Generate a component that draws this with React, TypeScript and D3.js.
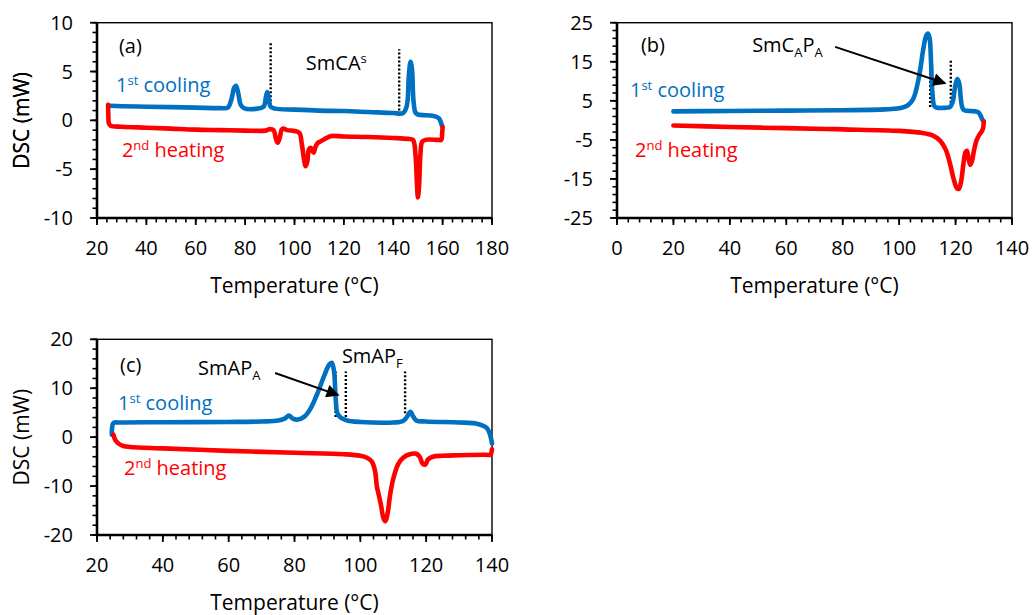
import React from 'react';
import * as d3 from 'd3';

type Pt = [number, number];

// ---------- Panel (a) ----------
const aCooling: Pt[] = [
  [24.5, 1.5], [30, 1.45], [40, 1.4], [50, 1.35], [60, 1.3], [70, 1.25], [73, 1.3], [74.5, 2.2], [75.5, 3.3],
  [76.3, 3.55], [77.2, 2.8], [78.2, 1.6], [79.5, 1.25], [85, 1.2], [87.5, 1.4], [88.5, 2.5], [89, 2.9],
  [89.6, 2.2], [90.3, 1.4], [92, 1.2], [100, 1.1], [110, 1.0], [120, 0.95], [130, 0.85], [140, 0.75],
  [144, 0.75], [145.5, 1.5], [146.3, 4.5], [147, 6.0], [147.6, 5.2], [148.2, 2.0], [149, 0.8], [150, 0.6],
  [155, 0.5], [157, 0.4], [158.5, 0.2], [159.3, -0.2], [159.8, -0.6],
];
const aHeating: Pt[] = [
  [24.5, 1.6], [24.6, 0.5], [24.8, -0.3], [25.5, -0.55], [30, -0.65], [40, -0.75], [50, -0.85], [60, -0.95],
  [70, -1.0], [80, -1.05], [88, -1.05], [90, -0.9], [91.5, -1.0], [92.5, -1.9], [93.2, -2.3], [94, -1.8],
  [94.8, -0.95], [95.5, -0.85], [97, -1.0], [100, -1.1], [102, -1.3], [103, -2.5], [104, -4.2], [104.5, -4.7],
  [105.2, -4.2], [105.8, -3.0], [106.5, -2.8], [107.2, -3.1], [107.8, -3.3], [108.5, -2.7], [109.5, -2.3],
  [111, -2.1], [113, -1.8], [115, -1.6], [120, -1.65], [130, -1.7], [140, -1.8], [146, -1.9], [148, -2.0],
  [149, -3.5], [149.6, -6.5], [150, -7.9], [150.5, -6.5], [151, -3.5], [151.7, -2.2], [153, -2.0],
  [158, -2.0], [159.5, -2.0], [159.8, -1.4], [160, -0.7],
];
const aXTicks = [20, 40, 60, 80, 100, 120, 140, 160, 180];
const aYTicks = [-10, -5, 0, 5, 10];

// ---------- Panel (b) ----------
const bCooling: Pt[] = [
  [20, 2.3], [40, 2.4], [60, 2.5], [80, 2.6], [95, 2.8], [100, 3.1], [103, 3.8], [105, 5.5], [107, 11],
  [108.5, 18], [109.5, 21.5], [110.2, 22.2], [110.8, 21], [111.3, 15], [111.8, 7], [112.5, 3.6], [113.5, 3.2],
  [116, 3.2], [118, 3.4], [119, 4.8], [119.8, 8.5], [120.6, 10.6], [121.3, 9.5], [121.8, 6], [122.3, 3.5],
  [123, 2.6], [125, 2.4], [127, 2.3], [128, 2.1], [128.8, 1.3], [129.5, 0.2], [130, -0.3],
];
const bHeating: Pt[] = [
  [20, -1.3], [40, -1.7], [60, -2.0], [80, -2.3], [100, -2.7], [108, -3.2], [112, -3.9], [114.5, -5.2],
  [116.5, -7.5], [118, -11], [119.3, -15], [120.5, -17.4], [121.2, -17.5], [122, -15.5], [122.8, -11],
  [123.5, -8.2], [124, -7.8], [124.6, -9.8], [125.2, -11.4], [125.8, -10.5], [126.5, -7.8], [127.5, -5],
  [128.5, -3.6], [129.3, -2.8], [129.8, -1.8], [130, -0.3],
];
const bXTicks = [0, 20, 40, 60, 80, 100, 120, 140];
const bYTicks = [-25, -15, -5, 5, 15, 25];

// ---------- Panel (c) ----------
const cCooling: Pt[] = [
  [24.5, 0.5], [24.6, 2.0], [25, 2.9], [27, 3.0], [40, 3.05], [60, 3.1], [70, 3.2], [75, 3.4], [77, 3.8],
  [78.3, 4.4], [79.5, 3.8], [81, 3.6], [83, 4.2], [85, 6.0], [87, 9], [89, 12.5], [90.5, 14.8], [91.3, 15.2],
  [92, 13.5], [92.5, 8], [93, 5], [94, 4.0], [96, 3.4], [100, 3.1], [110, 3.0], [113, 3.3], [114.5, 4.5],
  [115.2, 5.2], [116, 4.3], [117, 3.4], [120, 3.2], [130, 3.0], [135, 2.8], [137, 2.4], [138.5, 1.8],
  [139.5, 0.3], [140, -1.3],
];
const cHeating: Pt[] = [
  [25, 0.5], [25.5, -0.5], [26.5, -1.3], [28, -1.8], [30, -2.0], [40, -2.3], [60, -2.8], [80, -3.2], [95, -3.5],
  [100, -3.8], [102, -4.2], [103.5, -5], [104.5, -7], [105, -10], [105.5, -11.5], [106.3, -14], [107, -16.5],
  [107.6, -17.2], [108.3, -15.5], [109, -12], [110, -8.5], [111.5, -5.5], [113, -4.2], [115, -3.5],
  [117, -3.4], [118, -4.0], [119, -5.5], [119.8, -5.6], [120.5, -4.6], [122, -4.0], [125, -3.8], [130, -3.7],
  [138, -3.6], [139.5, -3.6], [139.8, -3.2], [140, -2.5],
];
const cXTicks = [20, 40, 60, 80, 100, 120, 140];
const cYTicks = [-20, -10, 0, 10, 20];

const BLUE = '#0070C0';
const RED = '#FF0000';
const FONT = '"Open Sans", "Noto Sans", sans-serif';
const FS = 20;
const TITLE_FS = 21;

type Label = { parts: { t: string; pos?: 'sup' | 'sub' }[]; at: Pt; color: string };
type VLine = { x: number; y0: number; y1: number };
type Arrow = { from: Pt; to: Pt };

interface Cfg {
  left: number; right: number; top: number; bottom: number;
  xDomain: Pt; yDomain: Pt; xTicks: number[]; yTicks: number[]; xMinor: number; yMinor: number;
  cooling: Pt[]; heating: Pt[]; labels: Label[]; vlines: VLine[]; arrows: Arrow[];
}

const panels: Cfg[] = [
  {
    left: 97, right: 492, top: 22.7, bottom: 218, xDomain: [20, 180], yDomain: [-10, 10],
    xTicks: aXTicks, yTicks: aYTicks, xMinor: 4, yMinor: 1, cooling: aCooling, heating: aHeating,
    labels: [
      { parts: [{ t: '(a)' }], at: [28.9, 6.9], color: '#000' },
      { parts: [{ t: 'SmCA' }, { t: 's', pos: 'sup' }], at: [104.6, 5.15], color: '#000' },
      { parts: [{ t: '1' }, { t: 'st', pos: 'sup' }, { t: ' cooling' }], at: [27.7, 2.9], color: BLUE },
      { parts: [{ t: '2' }, { t: 'nd', pos: 'sup' }, { t: ' heating' }], at: [30.1, -3.75], color: RED },
    ],
    vlines: [{ x: 90.35, y0: 1.55, y1: 7.9 }, { x: 142.4, y0: 1.0, y1: 7.27 }],
    arrows: [],
  },
  {
    left: 617, right: 1012, top: 22.7, bottom: 218, xDomain: [0, 140], yDomain: [-25, 25],
    xTicks: bXTicks, yTicks: bYTicks, xMinor: 4, yMinor: 2, cooling: bCooling, heating: bHeating,
    labels: [
      { parts: [{ t: '(b)' }], at: [8.5, 17.5], color: '#000' },
      { parts: [{ t: 'SmC' }, { t: 'A', pos: 'sub' }, { t: 'P' }, { t: 'A', pos: 'sub' }], at: [47.9, 17.5], color: '#000' },
      { parts: [{ t: '1' }, { t: 'st', pos: 'sup' }, { t: ' cooling' }], at: [4.6, 5.98], color: BLUE },
      { parts: [{ t: '2' }, { t: 'nd', pos: 'sup' }, { t: ' heating' }], at: [6.4, -9.4], color: RED },
    ],
    vlines: [{ x: 111, y0: 3.4, y1: 14.8 }, { x: 118.3, y0: 3.5, y1: 15.3 }],
    arrows: [{ from: [77.3, 18.8], to: [116.3, 9.5] }],
  },
  {
    left: 97, right: 492, top: 339.3, bottom: 535, xDomain: [20, 140], yDomain: [-20, 20],
    xTicks: cXTicks, yTicks: cYTicks, xMinor: 4, yMinor: 2, cooling: cCooling, heating: cHeating,
    labels: [
      { parts: [{ t: '(c)' }], at: [27, 13.3], color: '#000' },
      { parts: [{ t: 'SmAP' }, { t: 'A', pos: 'sub' }], at: [50.7, 12.7], color: '#000' },
      { parts: [{ t: 'SmAP' }, { t: 'F', pos: 'sub' }], at: [94.4, 15.2], color: '#000' },
      { parts: [{ t: '1' }, { t: 'st', pos: 'sup' }, { t: ' cooling' }], at: [26.4, 5.55], color: BLUE },
      { parts: [{ t: '2' }, { t: 'nd', pos: 'sup' }, { t: ' heating' }], at: [28.2, -7.7], color: RED },
    ],
    vlines: [{ x: 92.5, y0: 4.1, y1: 13.4 }, { x: 95.6, y0: 4.1, y1: 13.4 }, { x: 113.6, y0: 4.9, y1: 13.4 }],
    arrows: [{ from: [74.1, 13.1], to: [93.3, 8.6] }],
  },
];

function RichText({ lab, x, y }: { lab: Label; x: number; y: number }) {
  let shift = 0;
  return (
    <text x={x} y={y} fill={lab.color} fontSize={FS} fontFamily={FONT}>
      {lab.parts.map((p, i) => {
        const target = p.pos === 'sup' ? -7 : p.pos === 'sub' ? 5 : 0;
        const dy = target - shift;
        shift = target;
        return (
          <tspan key={i} dy={dy} fontSize={p.pos ? 13 : FS}>
            {p.t}
          </tspan>
        );
      })}
    </text>
  );
}

function Panel({ cfg, idx }: { cfg: Cfg; idx: number }) {
  const x = d3.scaleLinear().domain(cfg.xDomain).range([cfg.left, cfg.right]);
  const y = d3.scaleLinear().domain(cfg.yDomain).range([cfg.bottom, cfg.top]);
  const line = d3
    .line<Pt>()
    .x((d) => x(d[0]))
    .y((d) => y(d[1]))
    .curve(d3.curveCatmullRom.alpha(0.5));
  const xMinor = d3.range(cfg.xDomain[0], cfg.xDomain[1] + 0.001, cfg.xMinor);
  const yMinor = d3.range(cfg.yDomain[0], cfg.yDomain[1] + 0.001, cfg.yMinor);
  const midX = (cfg.left + cfg.right) / 2;
  const midY = (cfg.top + cfg.bottom) / 2;
  const markerId = `arrow${idx}`;
  return (
    <g>
      <defs>
        <marker id={markerId} viewBox="0 0 10 10" refX={9} refY={5} markerWidth={8} markerHeight={6.5} markerUnits="strokeWidth" orient="auto">
          <path d="M0,0 L10,5 L0,10 z" fill="#000" />
        </marker>
      </defs>
      <rect x={cfg.left} y={cfg.top} width={cfg.right - cfg.left} height={cfg.bottom - cfg.top} fill="none" stroke="#000" strokeWidth={1.4} />
      {xMinor.map((v, i) => (
        <line key={'xm' + i} x1={x(v)} x2={x(v)} y1={cfg.bottom} y2={cfg.bottom + 4.5} stroke="#000" strokeWidth={1.6} />
      ))}
      {yMinor.map((v, i) => (
        <line key={'ym' + i} x1={cfg.left - 4.5} x2={cfg.left} y1={y(v)} y2={y(v)} stroke="#000" strokeWidth={1.6} />
      ))}
      {cfg.xTicks.map((v) => (
        <g key={'xt' + v}>
          <line x1={x(v)} x2={x(v)} y1={cfg.bottom} y2={cfg.bottom + 7} stroke="#000" strokeWidth={1.8} />
          <text x={x(v)} y={cfg.bottom + 37} textAnchor="middle" fontSize={FS} fontFamily={FONT} fill="#000">
            {v}
          </text>
        </g>
      ))}
      {cfg.yTicks.map((v) => (
        <g key={'yt' + v}>
          <line x1={cfg.left - 7} x2={cfg.left} y1={y(v)} y2={y(v)} stroke="#000" strokeWidth={1.8} />
          <text x={cfg.left - 24} y={y(v)} dy="0.35em" textAnchor="end" fontSize={FS} fontFamily={FONT} fill="#000">
            {v}
          </text>
        </g>
      ))}
      <line x1={cfg.left} x2={cfg.left} y1={cfg.top} y2={cfg.bottom + 1} stroke="#000" strokeWidth={2.6} />
      <line x1={cfg.left - 1} x2={cfg.right} y1={cfg.bottom} y2={cfg.bottom} stroke="#000" strokeWidth={2.6} />
      <text x={midX} y={cfg.bottom + 75} textAnchor="middle" fontSize={TITLE_FS} fontFamily={FONT} fill="#000">
        Temperature (°C)
      </text>
      <text transform={`translate(22,${midY}) rotate(-90)`} x={0} y={0} dy="0.35em" textAnchor="middle" fontSize={TITLE_FS} fontFamily={FONT} fill="#000">
        DSC (mW)
      </text>
      {cfg.vlines.map((l, i) => (
        <line key={'vl' + i} x1={x(l.x)} x2={x(l.x)} y1={y(l.y0)} y2={y(l.y1)} stroke="#000" strokeWidth={2.4} strokeDasharray="2,2" />
      ))}
      <path d={line(cfg.cooling) || ''} fill="none" stroke={BLUE} strokeWidth={4.6} strokeLinejoin="round" strokeLinecap="round" />
      <path d={line(cfg.heating) || ''} fill="none" stroke={RED} strokeWidth={4.6} strokeLinejoin="round" strokeLinecap="round" />
      {cfg.arrows.map((a, i) => (
        <line key={'ar' + i} x1={x(a.from[0])} y1={y(a.from[1])} x2={x(a.to[0])} y2={y(a.to[1])} stroke="#000" strokeWidth={2} markerEnd={`url(#${markerId})`} />
      ))}
      {cfg.labels.map((l, i) => (
        <RichText key={'lb' + i} lab={l} x={x(l.at[0])} y={y(l.at[1])} />
      ))}
    </g>
  );
}

export default function App() {
  return (
    <svg width={1033} height={615} style={{ position: 'absolute', left: 0, top: 0, background: '#fff' }}>
      <rect x={0} y={0} width={1033} height={615} fill="#fff" />
      {panels.map((p, i) => (
        <Panel key={i} cfg={p} idx={i} />
      ))}
    </svg>
  );
}
